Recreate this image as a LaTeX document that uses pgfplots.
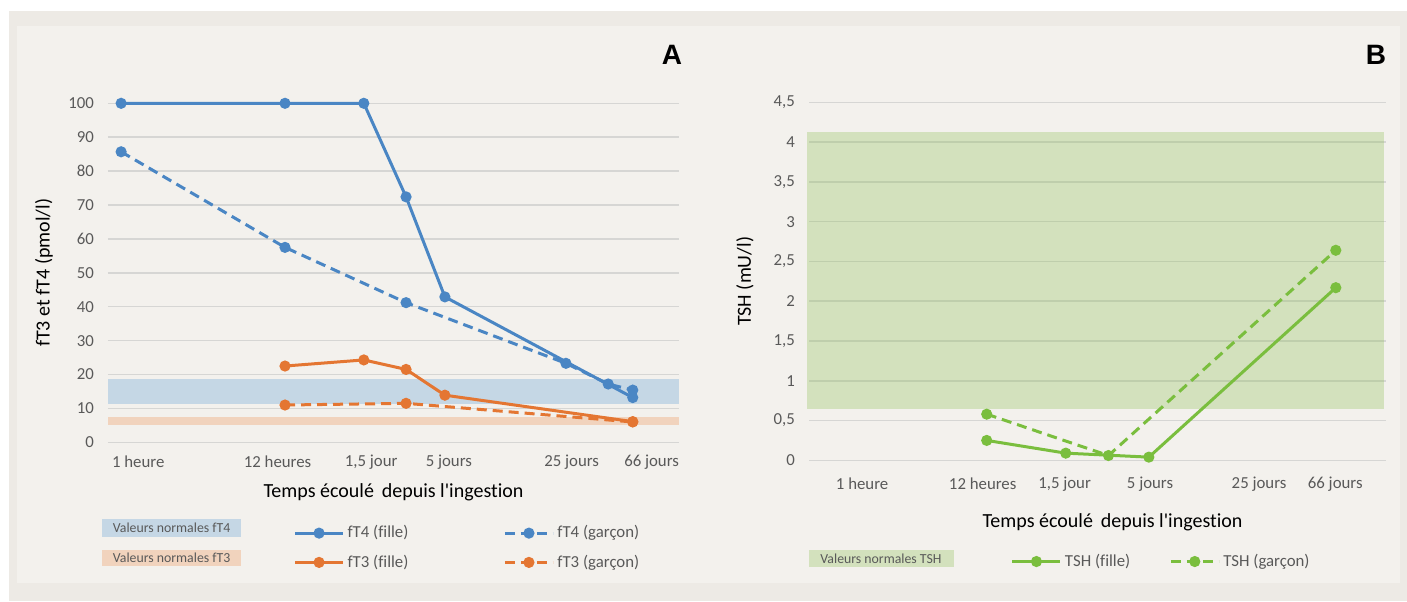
\documentclass[border=0pt]{standalone}
\usepackage{fontspec}
\setmainfont{Carlito}[Ligatures={TeXOff,NoCommon}]
\newfontfamily\letterfont{Liberation Sans}
\usepackage{pgfplots}
\pgfplotsset{compat=1.18}
\definecolor{outerbg}{RGB}{237,234,229}
\definecolor{innerbg}{RGB}{243,241,237}
\definecolor{cblue}{RGB}{74,134,196}
\definecolor{corange}{RGB}{228,118,50}
\definecolor{cgreen}{RGB}{122,190,62}
\definecolor{bandblue}{RGB}{91,155,213}
\definecolor{bandorange}{RGB}{237,125,49}
\definecolor{bandgreen}{RGB}{140,190,80}
\definecolor{gridc}{RGB}{214,214,212}
\definecolor{txt}{RGB}{89,89,89}

\pgfplotsset{
  panel/.style={
    scale only axis,
    clip=false,
    axis line style={draw=none},
    major tick length=0pt,
    ymajorgrids,
    grid style={gridc, line width=0.75pt},
    xmin=0, xmax=100,
    ymin=0,
    tick label style={font=\fontsize{8.4}{10}\selectfont, text=txt},
    yticklabel style={xshift=-3.5pt},
    label style={font=\fontsize{9.2}{11}\selectfont, text=txt},
    legend style={draw=none, fill=none, font=\fontsize{8.4}{10}\selectfont, text=txt,
      anchor=north west, inner sep=0pt, outer sep=0pt, nodes={inner sep=1.5pt}},
    legend cell align=left,
    legend image code/.code={
      \draw[mark repeat=2,mark phase=2] plot coordinates {(0pt,0pt) (12pt,0pt) (24pt,0pt)};
    },
  },
  ln/.style={line width=1.5pt, mark=*, mark size=2pt, mark options={solid}},
  dsh/.style={dash pattern=on 5pt off 3pt},
}

\begin{document}
\begin{tikzpicture}
\useasboundingbox (0,0) rectangle (703.5pt,-300.5pt);
\fill[white] (0,0) rectangle (703.5pt,-300.5pt);
\fill[outerbg] (4.5pt,-5.5pt) rectangle (703.5pt,-300.5pt);
\fill[innerbg] (8.5pt,-13pt) rectangle (700pt,-291.5pt);

% ---------- Panel A ----------
\begin{axis}[panel,
  at={(54pt,-221.15pt)}, anchor=south west,
  width=285.5pt, height=169.5pt,
  ymax=100,
  ytick={0,10,20,30,40,50,60,70,80,90,100},
  yticklabels={0,10,20,30,40,50,60,70,80,90,100},
  xtick={5.3,29.7,46.1,59.7,81.2,95.2},
  xticklabels={1 heure,12 heures,{1,5 jour},5 jours,25 jours,66 jours},
  xticklabel style={yshift=-3pt},
  xlabel={Temps écoulé\, depuis l'ingestion},
  ylabel={fT3 et fT4 (pmol/l)},
  every axis x label/.style={at={(axis description cs:0.5,-0.1475)}, anchor=center},
  every axis y label/.style={at={(axis description cs:-0.112,0.5)}, anchor=center, rotate=90},
  legend columns=2,
  legend style={at={(axis description cs:0.325,-0.2365)},
    /tikz/every even column/.append style={column sep=46pt}, row sep=4pt},
]
\addplot[draw=none, fill=bandblue, fill opacity=0.3, forget plot]
  coordinates {(0,11.3) (100,11.3) (100,18.6) (0,18.6)} -- cycle;
\addplot[draw=none, fill=bandorange, fill opacity=0.25, forget plot]
  coordinates {(0,5.1) (100,5.1) (100,7.5) (0,7.5)} -- cycle;

\addplot[ln, cblue] coordinates {(2.3,100) (31.0,100) (44.8,100) (52.2,72.4) (59.0,42.9) (91.9,13.2)};
\addlegendentry{fT4 (fille)}
\addplot[ln, cblue, dsh] coordinates {(2.3,85.7) (31.0,57.5) (52.2,41.2) (80.2,23.3) (87.6,17.2) (91.9,15.4)};
\addlegendentry{fT4 (garçon)}
\addplot[ln, corange] coordinates {(31.0,22.5) (44.8,24.3) (52.2,21.5) (59.0,13.9) (91.9,6.1)};
\addlegendentry{fT3 (fille)}
\addplot[ln, corange, dsh] coordinates {(31.0,11.0) (52.2,11.5) (91.9,6.0)};
\addlegendentry{fT3 (garçon)}
\end{axis}

% ---------- Panel B ----------
\begin{axis}[panel,
  at={(404.5pt,-230.15pt)}, anchor=south west,
  width=288.5pt, height=179pt,
  ymax=4.5,
  ytick={0,0.5,1,1.5,2,2.5,3,3.5,4,4.5},
  yticklabels={0,{0,5},1,{1,5},2,{2,5},3,{3,5},4,{4,5}},
  xtick={9.2,30.1,44.3,59.1,78.0,91.2},
  xticklabels={1 heure,12 heures,{1,5 jour},5 jours,25 jours,66 jours},
  xticklabel style={yshift=-5pt},
  xlabel={Temps écoulé\, depuis l'ingestion},
  ylabel={TSH (mU/l)},
  every axis x label/.style={at={(axis description cs:0.526,-0.172)}, anchor=center},
  every axis y label/.style={at={(axis description cs:-0.111,0.5)}, anchor=center, rotate=90},
  legend columns=2,
  legend style={at={(axis description cs:0.35,-0.253)},
    /tikz/every even column/.append style={column sep=18pt}},
]
\addplot[draw=none, fill=bandgreen, fill opacity=0.3, forget plot]
  coordinates {(-0.4,0.64) (99.6,0.64) (99.6,4.13) (-0.4,4.13)} -- cycle;

\addplot[ln, cgreen] coordinates {(30.8,0.25) (44.5,0.09) (58.9,0.04) (91.3,2.17)};
\addlegendentry{TSH (fille)}
\addplot[ln, cgreen, dsh] coordinates {(30.8,0.58) (51.9,0.06) (91.3,2.64)};
\addlegendentry{TSH (garçon)}
\end{axis}

% ---------- panel letters ----------
\node[font=\letterfont\fontsize{14}{16}\selectfont\bfseries] at (336pt,-27.5pt) {A};
\node[font=\letterfont\fontsize{14}{16}\selectfont\bfseries] at (688pt,-27.5pt) {B};

% ---------- normal-range legend boxes ----------
\node[fill=bandblue, fill opacity=0.3, text opacity=1, text=txt, minimum width=69.85pt, minimum height=8.7pt, inner sep=0pt,
  font=\fontsize{6.9}{8}\selectfont] at (85.8pt,-264pt) {Valeurs normales fT4};
\node[fill=bandorange, fill opacity=0.25, text opacity=1, text=txt, minimum width=69.85pt, minimum height=8pt, inner sep=0pt,
  font=\fontsize{6.9}{8}\selectfont] at (85.8pt,-279pt) {Valeurs normales fT3};
\node[fill=bandgreen, fill opacity=0.3, text opacity=1, text=txt, minimum width=72.5pt, minimum height=8.7pt, inner sep=0pt,
  font=\fontsize{6.9}{8}\selectfont] at (440.5pt,-279.3pt) {Valeurs normales TSH};
\end{tikzpicture}
\end{document}
